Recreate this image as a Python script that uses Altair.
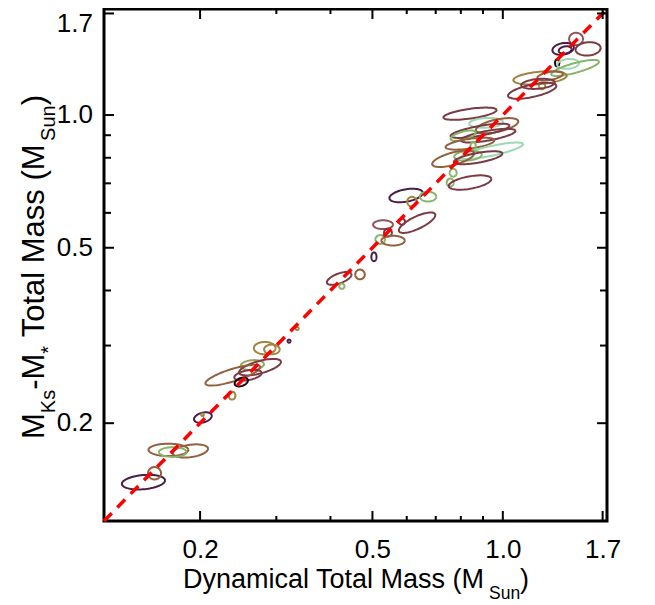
import numpy as np
import pandas as pd
import altair as alt

# ---- data (centres in M_Sun, semi-axes in dex, tilt in degrees) ----
dyn_mass = [1.476, 1.574, 1.378, 1.393, 1.335, 1.415, 1.469, 1.219, 1.286, 1.232, 1.206, 1.169,
            0.840, 0.915, 0.970, 0.886, 0.925, 0.810, 0.840, 0.854, 0.945, 0.831, 0.768, 0.877,
            0.768, 0.756, 0.840,
            0.598, 0.617, 0.672, 0.585, 0.634, 0.529, 0.543, 0.521, 0.558, 0.504,
            0.419, 0.468, 0.425, 0.335, 0.321,
            0.282, 0.293, 0.264, 0.275, 0.238, 0.258, 0.249, 0.237,
            0.203, 0.2026, 0.169, 0.190, 0.173, 0.148, 0.157]
mks_mass = [1.488, 1.413, 1.413, 1.405, 1.313, 1.306, 1.279, 1.214, 1.227, 1.165, 1.177, 1.135,
            1.007, 0.960, 0.946, 0.921, 0.898, 0.898, 0.861, 0.852, 0.830, 0.809, 0.796, 0.800,
            0.740, 0.703, 0.703,
            0.657, 0.636, 0.653, 0.573, 0.570, 0.564, 0.541, 0.522, 0.519, 0.477,
            0.426, 0.435, 0.409, 0.328, 0.307,
            0.296, 0.294, 0.271, 0.268, 0.257, 0.257, 0.248, 0.231,
            0.206, 0.209, 0.174, 0.173, 0.172, 0.147, 0.154]
semi_major = [0.016, 0.029, 0.025, 0.015, 0.005, 0.025, 0.057, 0.062, 0.030, 0.007, 0.039, 0.057,
              0.062, 0.039, 0.050, 0.069, 0.064, 0.030, 0.057, 0.006, 0.073, 0.032, 0.050, 0.057,
              0.008, 0.008, 0.050,
              0.039, 0.011, 0.019, 0.007, 0.046, 0.023, 0.009, 0.011, 0.027, 0.006,
              0.030, 0.011, 0.006, 0.0035, 0.0035,
              0.025, 0.018, 0.027, 0.050, 0.066, 0.032, 0.016, 0.008,
              0.021, 0.003, 0.046, 0.041, 0.032, 0.050, 0.015]
semi_minor = [0.014, 0.015, 0.013, 0.008, 0.008, 0.011, 0.011, 0.014, 0.009, 0.008, 0.011, 0.014,
              0.011, 0.011, 0.014, 0.011, 0.011, 0.009, 0.011, 0.009, 0.011, 0.011, 0.014, 0.011,
              0.009, 0.009, 0.014,
              0.014, 0.011, 0.011, 0.007, 0.014, 0.010, 0.009, 0.010, 0.011, 0.010,
              0.011, 0.011, 0.006, 0.0035, 0.0035,
              0.014, 0.011, 0.011, 0.014, 0.014, 0.011, 0.009, 0.009,
              0.011, 0.003, 0.014, 0.014, 0.011, 0.016, 0.014]
tilt_deg = [0, 5, 10, 10, 0, 5, 15, 5, 10, 0, 5, 12,
            8, 3, 12, 10, 10, 15, 8, 0, 12, 5, 15, 10,
            0, 0, 10,
            10, 0, 0, 0, 25, 0, 0, 0, 0, 0,
            20, 0, 0, 0, 0,
            0, 0, 5, 15, 17, 10, 20, 0,
            15, 0, 0, 8, 0, 5, 0]
ROSE, MAROON, PURPLE, BLACK = "#8f5557", "#7b3b45", "#4a1e48", "#140a14"
MINT, GREEN, OLIVE, OLGRN = "#9ed8b0", "#86b46a", "#a0843f", "#9aa55a"
BROWN, DKRED = "#93603d", "#8c2a3a"
colors = [ROSE, MAROON, PURPLE, PURPLE, BLACK, MINT, GREEN, OLIVE, BROWN, OLIVE, MAROON, MAROON,
          MAROON, MINT, BROWN, MAROON, MAROON, GREEN, BROWN, GREEN, MINT, GREEN, BROWN, MAROON,
          GREEN, GREEN, MAROON,
          PURPLE, OLIVE, GREEN, DKRED, MAROON, ROSE, DKRED, GREEN, BROWN, PURPLE,
          MAROON, BROWN, GREEN, OLIVE, PURPLE,
          OLIVE, OLIVE, OLGRN, MAROON, BROWN, MAROON, BLACK, OLIVE,
          PURPLE, OLIVE, BROWN, BROWN, GREEN, PURPLE, BROWN]

ticks_major = [0.2, 0.5, 1.0, 1.7]
ticks_minor = [0.3, 0.4, 0.6, 0.7, 0.8, 0.9]
tick_labels = ["0.2", "0.5", "1.0", "1.7"]
axis_range = [0.12, 1.74]

# ---- ellipse outlines (geometry from centre / semi-axes / tilt) ----
t = np.linspace(0, 2 * np.pi, 73)
rows = []
for i, (xc, yc, a, b, th, c) in enumerate(zip(dyn_mass, mks_mass, semi_major, semi_minor, tilt_deg, colors)):
    r = np.radians(th)
    dx = a * np.cos(t) * np.cos(r) - b * np.sin(t) * np.sin(r)
    dy = a * np.cos(t) * np.sin(r) + b * np.sin(t) * np.cos(r)
    lx, ly = np.log10(xc), np.log10(yc)
    for k in range(len(t)):
        rows.append({"id": i, "k": k, "x": 10 ** (lx + dx[k]), "y": 10 ** (ly + dy[k]), "c": c})
ell = pd.DataFrame(rows)

W, H = 503, 512
FONT = "Liberation Sans"
xs = alt.Scale(type="log", domain=axis_range, nice=False)
ys = alt.Scale(type="log", domain=axis_range, nice=False)
xaxis = alt.Axis(values=ticks_major, format=".1f", title=None, grid=False, ticks=False, tickSize=0,
                 domain=False, labelFontSize=26, labelFont=FONT, labelColor="black", labelPadding=36,
                 labelBaseline="alphabetic", labelFlush=False, labelOverlap=False)
yaxis = alt.Axis(values=ticks_major, title=None, grid=False, ticks=False, tickSize=0,
                 domain=False, labels=False)

ellipses = alt.Chart(ell).mark_line(strokeWidth=2, clip=True).encode(
    x=alt.X("x:Q", scale=xs, axis=xaxis),
    y=alt.Y("y:Q", scale=ys, axis=yaxis),
    detail="id:N",
    order="k:Q",
    color=alt.Color("c:N", scale=None),
)

diag = pd.DataFrame({"x": axis_range, "y": axis_range})
one_to_one = alt.Chart(diag).mark_line(color="#ff0000", strokeWidth=3.5, strokeDash=[11, 8]).encode(
    x=alt.X("x:Q", scale=xs, axis=xaxis), y=alt.Y("y:Q", scale=ys, axis=yaxis))

maj = pd.DataFrame({"v": ticks_major, "lab": tick_labels})
mnr = pd.DataFrame({"v": ticks_minor})

def xticks(df, length):
    bottom = alt.Chart(df).mark_rule(color="black", strokeWidth=2).encode(
        x=alt.X("v:Q", scale=xs, axis=xaxis), y=alt.value(H), y2=alt.value(H - length))
    top = alt.Chart(df).mark_rule(color="black", strokeWidth=2).encode(
        x=alt.X("v:Q", scale=xs, axis=xaxis), y=alt.value(0), y2=alt.value(length))
    return [bottom, top]

def yticks(df, length):
    left = alt.Chart(df).mark_rule(color="black", strokeWidth=2).encode(
        y=alt.Y("v:Q", scale=ys, axis=yaxis), x=alt.value(0), x2=alt.value(length))
    right = alt.Chart(df).mark_rule(color="black", strokeWidth=2).encode(
        y=alt.Y("v:Q", scale=ys, axis=yaxis), x=alt.value(W), x2=alt.value(W - length))
    return [left, right]

# y tick labels as text (top one nudged down so it stays on the canvas)
ylab_low = alt.Chart(maj[maj["v"] < 1.5]).mark_text(
    font=FONT, fontSize=26, align="right", baseline="middle", color="black").encode(
    y=alt.Y("v:Q", scale=ys, axis=yaxis), x=alt.value(-11), text="lab:N")
ylab_top = alt.Chart(maj[maj["v"] > 1.5]).mark_text(
    font=FONT, fontSize=26, align="right", baseline="middle", color="black", dy=11).encode(
    y=alt.Y("v:Q", scale=ys, axis=yaxis), x=alt.value(-11), text="lab:N")

dummy = pd.DataFrame({"d": [0]})

def txt(s, x, y, size, angle=0):
    kw = dict(text=s, font=FONT, fontSize=size, align="left", baseline="alphabetic", color="black")
    if angle:
        kw["angle"] = angle
    return alt.Chart(dummy).mark_text(**kw).encode(x=alt.value(x), y=alt.value(y))

# x title (plot origin at page (104, 9))
xtitle = [txt("Dynamical Total Mass (M", 79, 579, 27),
          txt("Sun", 385, 590, 17.5),
          txt(")", 416, 579, 27)]

# y title, rotated, reading bottom to top
FS, SS = 31, 20
seg = [("M", FS, 0.833 * FS, 0), ("Ks", SS, 1.167 * SS, 1), ("-M", FS, 1.166 * FS, 0),
       ("*", SS, 0.389 * SS, 1), ("Total Mass (M", FS, 6.334 * FS, 0), ("Sun", SS, 1.779 * SS, 1),
       (")", FS, 0.333 * FS, 0)]
ytitle = []
pos = 430
for s, size, w, sub in seg:
    if s.startswith("Total"):
        pos -= 0.278 * FS
    xb = -49 if sub else -60
    ytitle.append(txt(s, xb, pos, size, angle=270))
    pos -= w

chart = alt.layer(
    ellipses, one_to_one,
    *xticks(maj, 10), *xticks(mnr, 5), *yticks(maj, 10), *yticks(mnr, 7),
    ylab_low, ylab_top,
    *xtitle, *ytitle,
).properties(
    width=W, height=H,
    autosize=alt.AutoSizeParams(type="none"),
    padding={"left": 96, "top": 1, "right": 40, "bottom": 85},
).configure_view(stroke="black", strokeWidth=3)

chart.save("out.html", embed_options={"renderer": "svg", "actions": False})
